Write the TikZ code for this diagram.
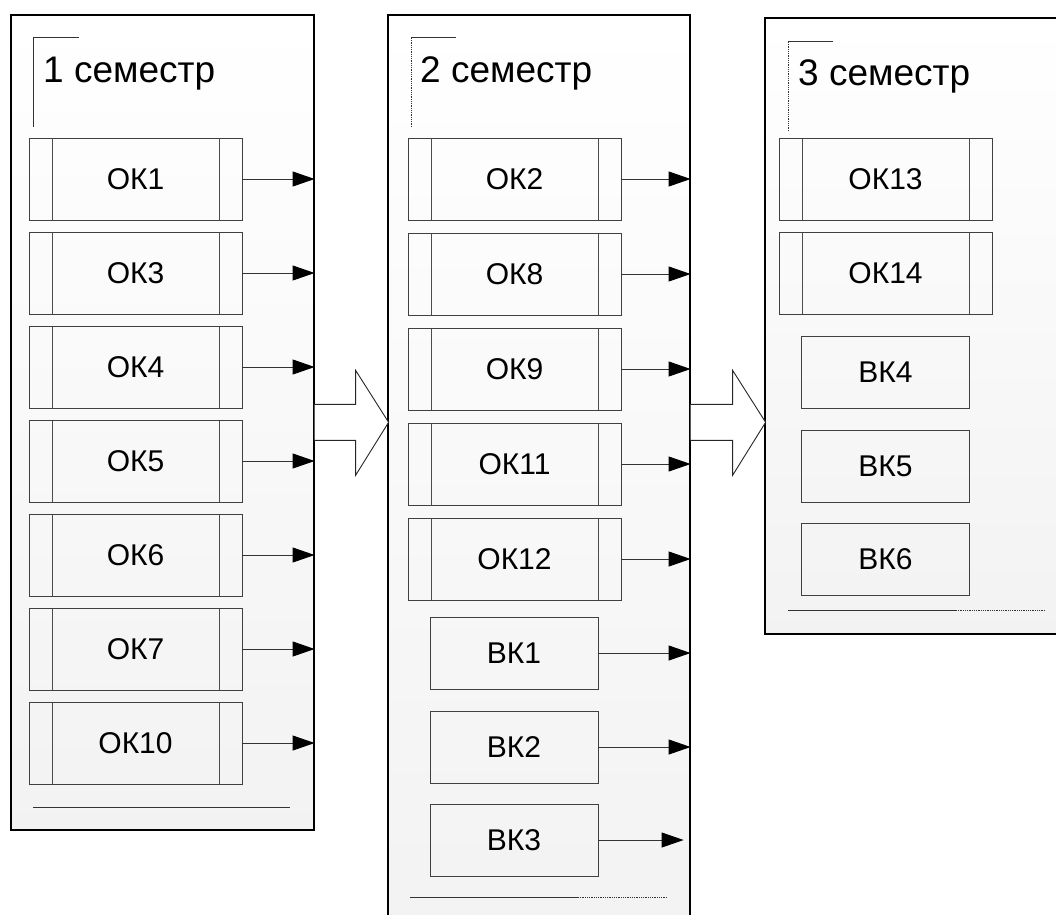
\documentclass[tikz,border=0pt]{standalone}
\usepackage{fontspec}
\setmainfont{Liberation Sans}
\usetikzlibrary{arrows.meta}

\tikzset{
    semester/.style={draw=black, line width=1.6pt, top color=white, bottom color=black!5,
        anchor=north west, inner sep=0pt},
    title/.style={anchor=base west, inner sep=0pt, font=\fontsize{37}{44}\selectfont},
    okbox/.style={draw=black!75, line width=0.9pt, minimum width=213pt, minimum height=82pt,
        inner sep=0pt, font=\fontsize{30}{36}\selectfont,
        path picture={
            \draw[black!70, line width=0.9pt]
                ([xshift=23pt]path picture bounding box.north west) -- ([xshift=23pt]path picture bounding box.south west)
                ([xshift=-23pt]path picture bounding box.north east) -- ([xshift=-23pt]path picture bounding box.south east);
        }},
    vkbox/.style={draw=black!75, line width=0.9pt, minimum width=168pt, minimum height=72pt,
        inner sep=0pt, font=\fontsize{30}{36}\selectfont},
    flow/.style={draw=black!80, line width=0.9pt, -{Triangle[length=22pt,width=15pt,color=black]}},
    bigarrow/.style={draw=black!85, line width=0.9pt, fill=white},
}

\begin{document}
\begin{tikzpicture}[x=1pt, y=-1pt]
    \useasboundingbox (0,0) rectangle (1056,914);
    \clip (0,0) rectangle (1056,914);

    % the three semester panels
    \node[semester, minimum width=303pt, minimum height=815pt] (sem1) at (10,14) {};
    \node[semester, minimum width=302pt, minimum height=920pt] (sem2) at (387,14) {};
    \node[semester, minimum width=310pt, minimum height=616pt] (sem3) at (764,17) {};

    % headers with their corner marks
    \draw[black!80, line width=0.8pt] (33,127) |- (79,37);
    \draw[black!80, line width=0.8pt, densely dotted] (411,127) -- (411,37);
    \draw[black!80, line width=0.8pt] (411,37) -- (456,37);
    \draw[black!80, line width=0.8pt, densely dotted] (788,131) -- (788,41);
    \draw[black!80, line width=0.8pt] (788,41) -- (833,41);
    \node[title] (t1) at (43,82) {1 семестр};
    \node[title] (t2) at (420,82) {2 семестр};
    \node[title] (t3) at (798,85) {3 семестр};

    % first semester
    \foreach \nm/\lbl/\y in {ok1/ОК1/179, ok3/ОК3/273, ok4/ОК4/367, ok5/ОК5/461,
                              ok6/ОК6/555, ok7/ОК7/649, ok10/ОК10/743}{
        \node[okbox] (\nm) at (135.5,\y) {\lbl};
        \draw[flow] (\nm.east) -- (\nm.east -| sem1.east);
    }

    % second semester
    \foreach \nm/\lbl/\y in {ok2/ОК2/179, ok8/ОК8/274, ok9/ОК9/369, ok11/ОК11/464, ok12/ОК12/559}{
        \node[okbox] (\nm) at (514.5,\y) {\lbl};
        \draw[flow] (\nm.east) -- (\nm.east -| sem2.east);
    }
    \foreach \nm/\lbl/\y in {vk1/ВК1/653, vk2/ВК2/747}{
        \node[vkbox] (\nm) at (514,\y) {\lbl};
        \draw[flow] (\nm.east) -- (\nm.east -| sem2.east);
    }
    \node[vkbox] (vk3) at (514,840) {ВК3};
    \coordinate (vk3end) at ([xshift=-7pt]vk3.east -| sem2.east);
    \draw[flow] (vk3.east) -- (vk3end);

    % third semester
    \foreach \nm/\lbl/\y in {ok13/ОК13/179.5, ok14/ОК14/273}{
        \node[okbox] (\nm) at (885.5,\y) {\lbl};
    }
    \foreach \nm/\lbl/\y in {vk4/ВК4/372, vk5/ВК5/466, vk6/ВК6/559.5}{
        \node[vkbox] (\nm) at (885.5,\y) {\lbl};
    }

    % bottom rules
    \draw[black!80, line width=0.8pt] (33,807) -- (290,807);
    \draw[black!80, line width=0.8pt] (410,897) -- (578,897);
    \draw[black!80, line width=0.8pt, densely dotted] (578,897) -- (667,897);
    \draw[black!80, line width=0.8pt] (788,610) -- (956,610);
    \draw[black!80, line width=0.8pt, densely dotted] (956,610) -- (1045,610);

    % hollow arrows between the semesters
    \filldraw[bigarrow] (sem1.east) ++(0,-18) -- ++(41,0) -- ++(0,-34) -- ++(33,52)
        -- ++(-33,53) -- ++(0,-35) -- ++(-41,0);
    \filldraw[bigarrow] (sem2.east |- sem1.east) ++(0,-18) -- ++(42,0) -- ++(0,-34) -- ++(33,52)
        -- ++(-33,53) -- ++(0,-35) -- ++(-42,0);
\end{tikzpicture}
\end{document}
